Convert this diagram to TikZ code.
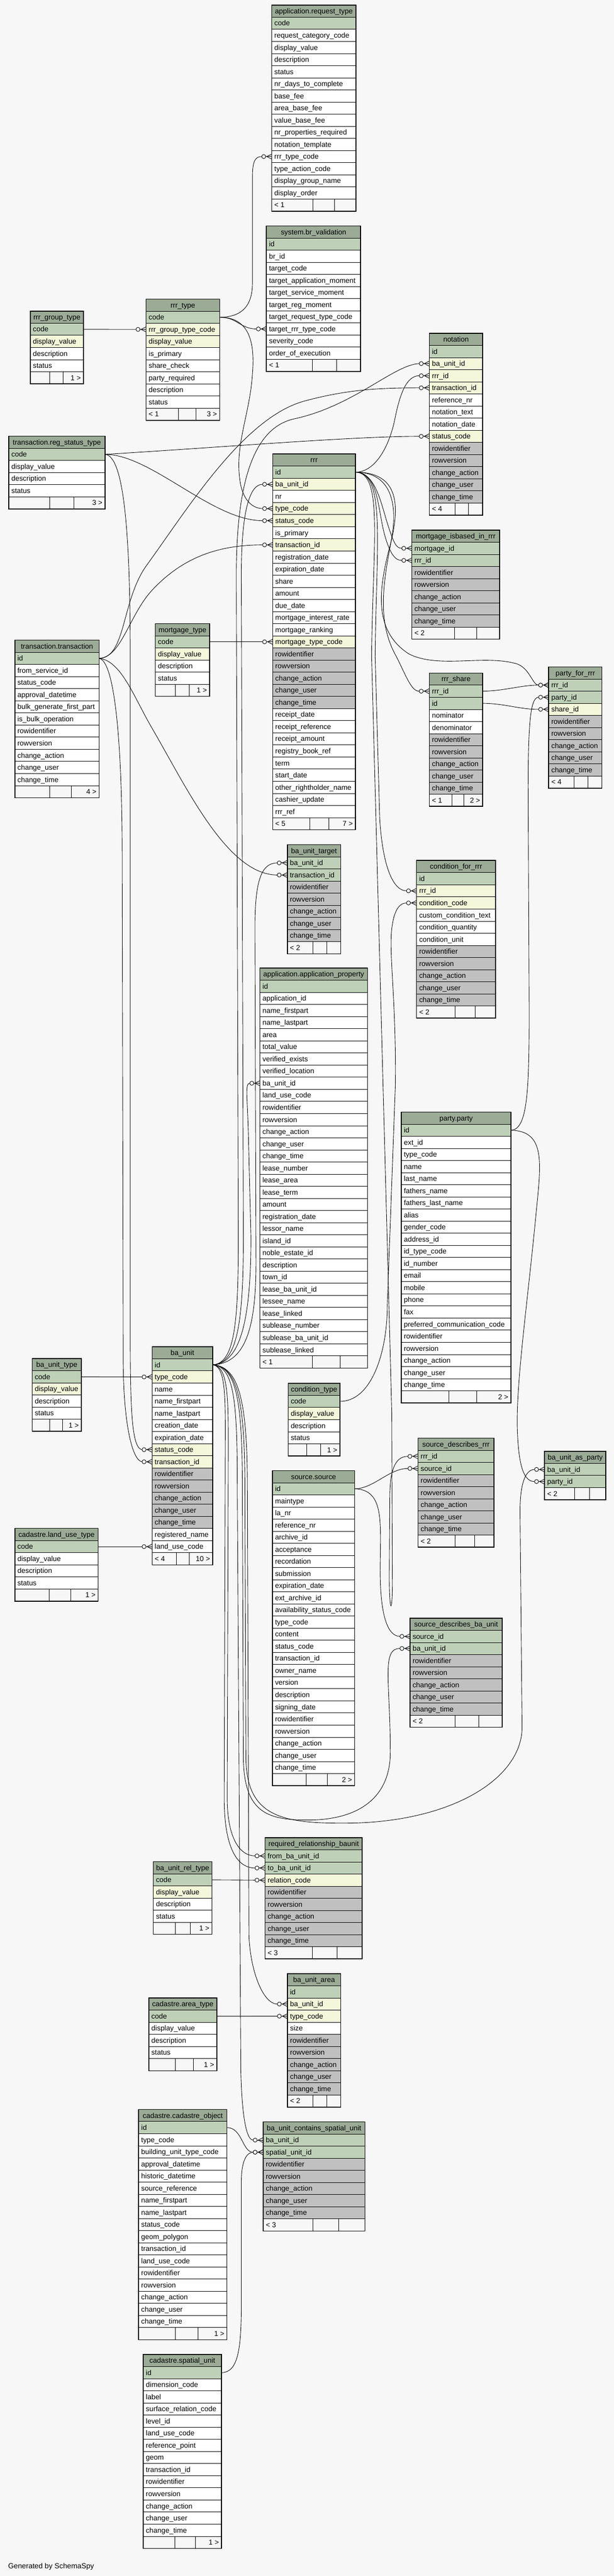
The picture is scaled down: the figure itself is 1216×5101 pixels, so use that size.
\documentclass[tikz,border=0pt]{standalone}
\usepackage{fontspec}
\setmainfont{Liberation Sans}
\usetikzlibrary{calc}
\definecolor{bgc}{HTML}{F7F7F7}
\definecolor{hdrc}{HTML}{9BAB96}
\definecolor{rowp}{HTML}{BED1B8}
\definecolor{rowf}{HTML}{F4F7DA}
\definecolor{roww}{HTML}{FFFFFF}
\definecolor{rowg}{HTML}{C0C0C0}
\newcommand\fieldfont{\fontsize{14.2}{16}\selectfont}
\tikzset{
  cellbox/.style={draw=black, line width=0.8pt, inner sep=0pt, outer sep=0pt, minimum height=24pt},
  ftext/.style={anchor=base west, inner sep=0pt, font=\fieldfont},
  htext/.style={anchor=base, inner sep=0pt, font=\fieldfont},
  edge/.style={draw=black, line width=0.9pt},
  outerbox/.style={draw=black, line width=1.6pt}
}
\newcommand\dbtable[6]{%
  \def\tbx{#2}\def\tby{#3}\def\tbw{#4}%
  \node[cellbox, fill=hdrc, minimum width=#4, anchor=north west] (#1) at (#2,#3) {};
  \node[htext] at ([yshift=-5pt]#1.center) {#5};
  \foreach \k/\f [count=\i] in {#6}{%
    \node[cellbox, fill=row\k, minimum width=#4, anchor=north west] (#1-\f) at (#2,{#3+24*\i}) {};
    \node[ftext] at ([xshift=5pt,yshift=-5pt]#1-\f.west) {\f};
    \xdef\tbn{\i}%
  }%
}
\newcommand\dbfoot[4]{%
  \pgfmathsetmacro\fy{\tby+24*(\tbn+1)}%
  \draw[line width=0.8pt, fill=bgc] (\tbx,\fy) rectangle ++(\tbw,24);
  \draw[line width=0.8pt] ({\tbx+#3},\fy) -- ++(0,24) ({\tbx+#4},\fy) -- ++(0,24);
  \node[ftext] at ({\tbx+5},{\fy+17}) {#1};
  \node[ftext, anchor=base east] at ({\tbx+\tbw-5},{\fy+17}) {#2};
  \draw[outerbox] (\tbx,\tby) rectangle ({\tbx+\tbw},{\fy+24});
}
\newcommand\crow[1]{%
  \draw[edge] ([xshift=-12pt]#1.west) -- (#1.west);
  \draw[edge] ([xshift=-10pt]#1.west) -- ([yshift=5pt]#1.west);
  \draw[edge] ([xshift=-10pt]#1.west) -- ([yshift=-5pt]#1.west);
  \draw[edge, fill=bgc] ([xshift=-16pt]#1.west) circle[radius=4pt];
}
\newcommand\fk[3]{\draw[edge] (#1.east) #2 ([xshift=-20pt]#3.west); \crow{#3}}
\begin{document}
\catcode`\_=12
\begin{tikzpicture}[x=1pt,y=-1pt]
\useasboundingbox (0,0) rectangle (1216,5101);
\fill[bgc] (0,0) rectangle (1216,5101);

% ---------- tables ----------
\dbtable{rt}{538.3}{10}{166.7}{application.request_type}{p/code, w/request_category_code, w/display_value, w/description, w/status, w/nr_days_to_complete, w/base_fee, w/area_base_fee, w/value_base_fee, w/nr_properties_required, w/notation_template, w/rrr_type_code, w/type_action_code, w/display_group_name, w/display_order}
\dbfoot{< 1}{}{81}{124.4}

\dbtable{brv}{527.7}{447.4}{186.6}{system.br_validation}{p/id, w/br_id, w/target_code, w/target_application_moment, w/target_service_moment, w/target_reg_moment, w/target_request_type_code, w/target_rrr_type_code, w/severity_code, w/order_of_execution}
\dbfoot{< 1}{}{91.3}{139}

\dbtable{rgt}{60}{616}{105.3}{rrr_group_type}{p/code, f/display_value, w/description, w/status}
\dbfoot{}{1 >}{38.7}{65.3}

\dbtable{rty}{289.3}{592.2}{145.7}{rrr_type}{p/code, f/rrr_group_type_code, f/display_value, w/is_primary, w/share_check, w/party_required, w/description, w/status}
\dbfoot{< 1}{3 >}{63.7}{98.7}

\dbtable{rst}{17.3}{863.7}{190.7}{transaction.reg_status_type}{p/code, w/display_value, w/description, w/status}
\dbfoot{}{3 >}{81.4}{129.4}

\dbtable{rrr}{540}{899}{164}{rrr}{p/id, f/ba_unit_id, w/nr, f/type_code, f/status_code, w/is_primary, f/transaction_id, w/registration_date, w/expiration_date, w/share, w/amount, w/due_date, w/mortgage_interest_rate, w/mortgage_ranking, f/mortgage_type_code, g/rowidentifier, g/rowversion, g/change_action, g/change_user, g/change_time, w/receipt_date, w/receipt_reference, w/receipt_amount, w/registry_book_ref, w/term, w/start_date, w/other_rightholder_name, w/cashier_update, w/rrr_ref}
\dbfoot{< 5}{7 >}{73.3}{111.7}

\dbtable{nota}{850.3}{660}{105.7}{notation}{p/id, f/ba_unit_id, f/rrr_id, f/transaction_id, w/reference_nr, w/notation_text, w/notation_date, f/status_code, g/rowidentifier, g/rowversion, g/change_action, g/change_user, g/change_time}
\dbfoot{< 4}{}{50.7}{77.7}

\dbtable{mib}{815.7}{1049.7}{173.6}{mortgage_isbased_in_rrr}{p/mortgage_id, p/rrr_id, g/rowidentifier, g/rowversion, g/change_action, g/change_user, g/change_time}
\dbfoot{< 2}{}{84}{128.3}

\dbtable{mty}{307.7}{1235}{107.3}{mortgage_type}{p/code, f/display_value, w/description, w/status}
\dbfoot{}{1 >}{39.3}{67.3}

\dbtable{trn}{29.3}{1267.7}{167}{transaction.transaction}{p/id, w/from_service_id, w/status_code, w/approval_datetime, w/bulk_generate_first_part, w/is_bulk_operation, w/rowidentifier, w/rowversion, w/change_action, w/change_user, w/change_time}
\dbfoot{}{4 >}{69.4}{112}

\dbtable{rsh}{850.3}{1332.7}{105.7}{rrr_share}{p/rrr_id, p/id, w/nominator, w/denominator, g/rowidentifier, g/rowversion, g/change_action, g/change_user, g/change_time}
\dbfoot{< 1}{2 >}{44.4}{68.4}

\dbtable{pfr}{1086.7}{1320.6}{105.6}{party_for_rrr}{p/rrr_id, p/party_id, f/share_id, g/rowidentifier, g/rowversion, g/change_action, g/change_user, g/change_time}
\dbfoot{< 4}{}{50}{77.3}

\dbtable{but}{569}{1672.7}{105.7}{ba_unit_target}{p/ba_unit_id, p/transaction_id, g/rowidentifier, g/rowversion, g/change_action, g/change_user, g/change_time}
\dbfoot{< 2}{}{50.3}{78}

\dbtable{cfr}{825}{1704}{156.3}{condition_for_rrr}{p/id, f/rrr_id, f/condition_code, w/custom_condition_text, w/condition_quantity, w/condition_unit, g/rowidentifier, g/rowversion, g/change_action, g/change_user, g/change_time}
\dbfoot{< 2}{}{76}{116}

\dbtable{app}{514.7}{1917}{213.3}{application.application_property}{p/id, w/application_id, w/name_firstpart, w/name_lastpart, w/area, w/total_value, w/verified_exists, w/verified_location, w/ba_unit_id, w/land_use_code, w/rowidentifier, w/rowversion, w/change_action, w/change_user, w/change_time, w/lease_number, w/lease_area, w/lease_term, w/amount, w/registration_date, w/lessor_name, w/island_id, w/noble_estate_id, w/description, w/town_id, w/lease_ba_unit_id, w/lessee_name, w/lease_linked, w/sublease_number, w/sublease_ba_unit_id, w/sublease_linked}
\dbfoot{< 1}{}{104}{158.6}

\dbtable{pty}{794.7}{2202}{217.3}{party.party}{p/id, w/ext_id, w/type_code, w/name, w/last_name, w/fathers_name, w/fathers_last_name, w/alias, w/gender_code, w/address_id, w/id_type_code, w/id_number, w/email, w/mobile, w/phone, w/fax, w/preferred_communication_code, w/rowidentifier, w/rowversion, w/change_action, w/change_user, w/change_time}
\dbfoot{}{2 >}{94.3}{149}

\dbtable{bu}{301.3}{2666.6}{119.8}{ba_unit}{p/id, f/type_code, w/name, w/name_firstpart, w/name_lastpart, w/creation_date, w/expiration_date, f/status_code, f/transaction_id, g/rowidentifier, g/rowversion, g/change_action, g/change_user, g/change_time, w/registered_name, w/land_use_code}
\dbfoot{< 4}{10 >}{47.7}{73.2}

\dbtable{buty}{63.7}{2690.3}{97.6}{ba_unit_type}{p/code, f/display_value, w/description, w/status}
\dbfoot{}{1 >}{34.8}{60.1}

\dbtable{ctp}{570.7}{2739}{102.6}{condition_type}{p/code, f/display_value, w/description, w/status}
\dbfoot{}{1 >}{36.8}{63.8}

\dbtable{src}{539.6}{2912}{162.9}{source.source}{p/id, w/maintype, w/la_nr, w/reference_nr, w/archive_id, w/acceptance, w/recordation, w/submission, w/expiration_date, w/ext_archive_id, w/availability_status_code, w/type_code, w/content, w/status_code, w/transaction_id, w/owner_name, w/version, w/description, w/signing_date, w/rowidentifier, w/rowversion, w/change_action, w/change_user, w/change_time}
\dbfoot{}{2 >}{67}{108.4}

\dbtable{sdr}{827.9}{2847.8}{150.4}{source_describes_rrr}{p/rrr_id, p/source_id, g/rowidentifier, g/rowversion, g/change_action, g/change_user, g/change_time}
\dbfoot{< 2}{}{73.3}{111.8}

\dbtable{bap}{1078.6}{2873.7}{121.4}{ba_unit_as_party}{p/ba_unit_id, p/party_id}
\dbfoot{< 2}{}{58.8}{89.2}

\dbtable{lut}{29.3}{3026.6}{165.2}{cadastre.land_use_type}{p/code, w/display_value, w/description, w/status}
\dbfoot{}{1 >}{67.6}{110.7}

\dbtable{sdb}{812}{3204.3}{182.7}{source_describes_ba_unit}{p/source_id, p/ba_unit_id, g/rowidentifier, g/rowversion, g/change_action, g/change_user, g/change_time}
\dbfoot{< 2}{}{89.2}{136}

\dbtable{rrb}{525}{3639}{192.3}{required_relationship_baunit}{p/from_ba_unit_id, p/to_ba_unit_id, f/relation_code, g/rowidentifier, g/rowversion, g/change_action, g/change_user, g/change_time}
\dbfoot{< 3}{}{93.7}{142.7}

\dbtable{brt}{303.7}{3686.5}{116.3}{ba_unit_rel_type}{p/code, f/display_value, w/description, w/status}
\dbfoot{}{1 >}{43.7}{73.3}

\dbtable{bua}{569.3}{3908.4}{105.4}{ba_unit_area}{p/id, f/ba_unit_id, f/type_code, w/size, g/rowidentifier, g/rowversion, g/change_action, g/change_user, g/change_time}
\dbfoot{< 2}{}{50}{77.4}

\dbtable{aty}{294.7}{3956.5}{134.6}{cadastre.area_type}{p/code, w/display_value, w/description, w/status}
\dbfoot{}{1 >}{53}{88}

\dbtable{cob}{274.5}{4177}{175}{cadastre.cadastre_object}{p/id, w/type_code, w/building_unit_type_code, w/approval_datetime, w/historic_datetime, w/source_reference, w/name_firstpart, w/name_lastpart, w/status_code, w/geom_polygon, w/transaction_id, w/land_use_code, w/rowidentifier, w/rowversion, w/change_action, w/change_user, w/change_time}
\dbfoot{}{1 >}{73}{117.6}

\dbtable{bcs}{521.3}{4201.8}{201.4}{ba_unit_contains_spatial_unit}{p/ba_unit_id, p/spatial_unit_id, g/rowidentifier, g/rowversion, g/change_action, g/change_user, g/change_time}
\dbfoot{< 3}{}{98.7}{149.4}

\dbtable{spu}{283.7}{4662.3}{155}{cadastre.spatial_unit}{p/id, w/dimension_code, w/label, w/surface_relation_code, w/level_id, w/land_use_code, w/reference_point, w/geom, w/transaction_id, w/rowidentifier, w/rowversion, w/change_action, w/change_user, w/change_time}
\dbfoot{}{1 >}{63}{103}

\node[anchor=base west, inner sep=0pt, font=\fontsize{14.5}{16}\selectfont] (gen) at (16,5086) {Generated by SchemaSpy};

% ---------- connectors ----------
\fk{rgt-code}{--}{rty-rrr_group_type_code}
\fk{rty-code}{.. controls (480,628) and (500,605) .. (500,560) -- (500,350) .. controls (500,320) and (505,310) ..}{rt-rrr_type_code}
\fk{rty-code}{.. controls (470,628) and (475,651) ..}{brv-target_rrr_type_code}
\fk{rty-code}{.. controls (495,628) and (505,680) .. (500,740) .. controls (495,820) and (465,880) .. (475,950) .. controls (480,990) and (500,1007) ..}{rrr-type_code}
\fk{rst-code}{.. controls (300,900) and (420,1031) ..}{rrr-status_code}
\fk{rst-code}{.. controls (450,885) and (700,864) ..}{nota-status_code}
\fk{rst-code}{.. controls (245,902) and (258,1050) .. (258,1300) -- (258,2650) .. controls (258,2800) and (262,2868) ..}{bu-status_code}
\fk{trn-id}{.. controls (240,1302) and (255,1220) .. (300,1170) .. controls (360,1105) and (430,1079) ..}{rrr-transaction_id}
\fk{trn-id}{.. controls (250,1302) and (240,1190) .. (290,1120) .. controls (370,1010) and (480,830) .. (600,795) .. controls (690,770) and (760,768) ..}{nota-transaction_id}
\fk{trn-id}{.. controls (240,1308) and (265,1380) .. (300,1440) .. controls (370,1560) and (450,1732) ..}{but-transaction_id}
\fk{trn-id}{.. controls (225,1308) and (242,1450) .. (242,1700) -- (244,2700) .. controls (245,2820) and (262,2892) ..}{bu-transaction_id}
\fk{mty-code}{--}{rrr-mortgage_type_code}

\fk{bu-id}{.. controls (480,2700) and (497,2600) .. (497,2450) -- (492,2250) .. controls (490,2170) and (485,2145) ..}{app-ba_unit_id}
\fk{bu-id}{.. controls (490,2700) and (507,2620) .. (507,2500) -- (505,1850) .. controls (504,1750) and (515,1709) ..}{but-ba_unit_id}
\fk{bu-id}{.. controls (470,2700) and (482,2620) .. (482,2450) -- (478,1150) .. controls (477,1010) and (495,959) ..}{rrr-ba_unit_id}
\fk{bu-id}{.. controls (465,2700) and (472,2620) .. (472,2450) -- (468,1150) .. controls (467,960) and (500,850) .. (580,830) .. controls (700,805) and (780,722) ..}{nota-ba_unit_id}
\fk{bu-id}{.. controls (455,2705) and (452,2780) .. (452,2900) -- (450,3560) .. controls (450,3640) and (475,3675) ..}{rrb-from_ba_unit_id}
\fk{bu-id}{.. controls (450,2705) and (446,2780) .. (446,2900) -- (444,3560) .. controls (444,3660) and (470,3699) ..}{rrb-to_ba_unit_id}
\fk{bu-id}{.. controls (475,2705) and (490,2780) .. (490,2950) -- (493,3830) .. controls (495,3900) and (520,3968) ..}{bua-ba_unit_id}
\fk{bu-id}{.. controls (465,2705) and (470,2780) .. (470,2950) -- (477,4100) .. controls (479,4190) and (488,4238) ..}{bcs-ba_unit_id}
\fk{bu-id}{.. controls (470,2705) and (480,2780) .. (480,2950) -- (482,3480) .. controls (483,3590) and (530,3604) .. (610,3604) .. controls (710,3604) and (773,3560) .. (773,3470) .. controls (773,3330) and (755,3264) ..}{sdb-ba_unit_id}
\fk{bu-id}{.. controls (472,2705) and (485,2780) .. (485,2950) -- (487,3480) .. controls (488,3600) and (560,3612) .. (700,3610) .. controls (900,3605) and (1034,3520) .. (1034,3420) -- (1030,3000) .. controls (1029,2940) and (1040,2910) ..}{bap-ba_unit_id}

\fk{rrr-id}{.. controls (745,935) and (772,880) .. (782,830) .. controls (792,780) and (805,744) ..}{nota-rrr_id}
\fk{rrr-id}{.. controls (745,935) and (755,1000) .. (770,1045) .. controls (780,1075) and (785,1086) ..}{mib-mortgage_id}
\fk{rrr-id}{.. controls (750,935) and (748,1010) .. (762,1060) .. controls (772,1095) and (782,1110) ..}{mib-rrr_id}
\fk{rrr-id}{.. controls (770,935) and (790,990) .. (775,1070) .. controls (760,1150) and (745,1230) .. (785,1300) .. controls (805,1340) and (815,1369) ..}{rsh-rrr_id}
\fk{rrr-id}{.. controls (790,935) and (795,1000) .. (770,1090) .. controls (750,1170) and (740,1250) .. (810,1295) .. controls (870,1325) and (960,1295) .. (1025,1315) .. controls (1050,1325) and (1055,1357) ..}{pfr-rrr_id}
\fk{rrr-id}{.. controls (765,935) and (745,1080) .. (743,1300) -- (752,1620) .. controls (758,1720) and (780,1764) ..}{cfr-rrr_id}
\fk{rrr-id}{.. controls (760,935) and (738,1080) .. (736,1300) -- (776,2800) -- (777,3120) .. controls (778,3200) and (771,3200) .. (771,3120) -- (772,2960) .. controls (773,2905) and (785,2884) ..}{sdr-rrr_id}

\fk{rsh-rrr_id}{.. controls (1000,1368) and (1030,1357) ..}{pfr-rrr_id}
\fk{rsh-id}{.. controls (1000,1393) and (1030,1405) ..}{pfr-share_id}
\fk{pty-id}{.. controls (1045,2237) and (1048,2160) .. (1048,2000) -- (1046,1560) .. controls (1046,1420) and (1052,1381) ..}{pfr-party_id}
\fk{pty-id}{.. controls (1080,2240) and (1072,2300) .. (1062,2400) .. controls (1045,2580) and (1020,2750) .. (1025,2840) .. controls (1028,2910) and (1040,2934) ..}{bap-party_id}
\fk{ctp-code}{.. controls (735,2775) and (767,2680) .. (767,2585) -- (783,2150) .. controls (785,2000) and (772,1900) .. (775,1850) .. controls (778,1805) and (790,1788) ..}{cfr-condition_code}
\fk{src-id}{.. controls (740,2948) and (770,2908) ..}{sdr-source_id}
\fk{src-id}{.. controls (760,2950) and (754,3010) .. (753,3100) .. controls (752,3200) and (768,3240) ..}{sdb-source_id}
\fk{lut-code}{--}{bu-land_use_code}
\fk{buty-code}{--}{bu-type_code}
\fk{brt-code}{--}{rrb-relation_code}
\fk{aty-code}{--}{bua-type_code}
\fk{cob-id}{.. controls (480,4213) and (480,4262) ..}{bcs-spatial_unit_id}
\fk{spu-id}{.. controls (472,4698) and (478,4650) .. (478,4560) -- (478,4320) .. controls (478,4280) and (488,4262) ..}{bcs-spatial_unit_id}
\end{tikzpicture}
\end{document}
